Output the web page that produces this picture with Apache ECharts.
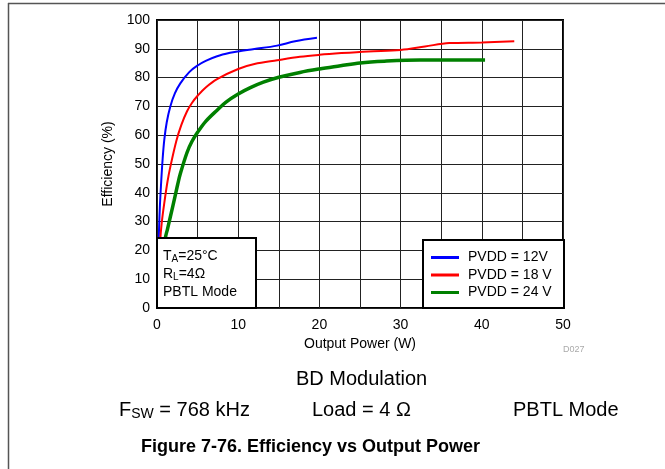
<!DOCTYPE html>
<html>
<head>
<meta charset="utf-8">
<script src="https://cdn.jsdelivr.net/npm/echarts@6/dist/echarts.min.js"></script>
<style>
html,body{margin:0;padding:0;background:#fff;}
#c{width:665px;height:469px;}
</style>
</head>
<body>
<div id="c"></div>
<script>
// ---- data ----
var seriesNames = ['PVDD = 12V', 'PVDD = 18 V', 'PVDD = 24 V'];
var xTicks = [0, 10, 20, 30, 40, 50];
var yTicks = [0, 10, 20, 30, 40, 50, 60, 70, 80, 90, 100];

var pvdd12 = [[0.15,10],[0.22,24],[0.35,35],[0.5,43],[0.7,52],[0.9,58.5],[1.2,64.5],[1.64,70],[2.2,74.5],[2.87,78],[4,82],[5,84.2],[6,85.8],[7.4,87.4],[9,88.6],[10,89.1],[12,89.9],[14.8,91.1],[17,92.6],[19.7,93.8]];
var pvdd18 = [[0.3,10],[0.42,24],[0.6,30],[0.9,36.5],[1.3,44],[1.64,49],[2.38,58],[3,63.6],[3.7,68.3],[4.3,71.2],[5,73.7],[6,76.6],[7.4,79.5],[10,83],[12,84.7],[14.8,86],[17.6,87.2],[20,87.9],[22.7,88.5],[26,89.1],[30,89.6],[33,90.8],[36,92],[40,92.2],[44,92.6]];
var pvdd24 = [[0.85,10],[1.02,24],[1.3,27.5],[1.64,31.6],[2.2,38.5],[2.54,42.8],[2.87,46.6],[3.7,54],[4.3,57.8],[5,61],[6,64.8],[7.4,68.7],[8.5,71.5],[10,74.3],[11.5,76.5],[13.1,78.4],[15,80.1],[17.6,81.8],[20,83],[22.6,84.1],[25,85.1],[28,85.7],[32.4,86.1],[36,86.1],[40.4,86.1]];

var FONT = '"Liberation Sans", Arial, Helvetica, sans-serif';
var chart = echarts.init(document.getElementById('c'), null, {renderer: 'canvas'});

var option = {
  animation: false,
  backgroundColor: '#fff',
  textStyle: {fontFamily: FONT},
  grid: {left: 157, right: 102, top: 20, bottom: 161, show: true, borderColor: '#000', borderWidth: 2, backgroundColor: 'transparent', containLabel: false},
  xAxis: {
    type: 'value', min: 0, max: 50, interval: 5,
    name: 'Output Power (W)', nameLocation: 'middle', nameGap: 27,
    nameTextStyle: {fontSize: 14, color: '#000', fontFamily: FONT},
    axisLine: {show: false}, axisTick: {show: false},
    axisLabel: {fontSize: 14, color: '#000', margin: 10, fontFamily: FONT,
      formatter: function (v) { return xTicks.indexOf(v) >= 0 ? String(v) : ''; }},
    splitLine: {show: true, lineStyle: {color: '#222', width: 1}}
  },
  yAxis: {
    type: 'value', min: 0, max: 100, interval: 10,
    name: 'Efficiency (%)', nameLocation: 'middle', nameGap: 42,
    nameTextStyle: {fontSize: 14, color: '#000', fontFamily: FONT},
    axisLine: {show: false}, axisTick: {show: false},
    axisLabel: {fontSize: 14, color: '#000', margin: 7, fontFamily: FONT,
      formatter: function (v) { return yTicks.indexOf(v) >= 0 ? String(v) : ''; }},
    splitLine: {show: true, lineStyle: {color: '#222', width: 1}}
  },
  legend: {
    orient: 'vertical', left: 431, top: 249, padding: 0, itemGap: 0.5,
    itemWidth: 28, itemHeight: 3, icon: 'rect', z: 20,
    textStyle: {fontSize: 14, color: '#000', lineHeight: 17, fontFamily: FONT, padding: [0, 0, 0, 4]},
    data: seriesNames
  },
  series: [
    {name: seriesNames[0], type: 'line', data: pvdd12, showSymbol: false, smooth: 0.35, color: '#0000ff', lineStyle: {width: 2, color: '#0000ff'}, z: 2},
    {name: seriesNames[1], type: 'line', data: pvdd18, showSymbol: false, smooth: 0.35, color: '#ff0000', lineStyle: {width: 2, color: '#ff0000'}, z: 2},
    {name: seriesNames[2], type: 'line', data: pvdd24, showSymbol: false, smooth: 0.35, color: '#008000', lineStyle: {width: 3.5, color: '#008000'}, z: 2}
  ],
  graphic: {elements: [
    // outer figure frame
    {type: 'line', z: 5, shape: {x1: 8.5, y1: 3, x2: 8.5, y2: 469}, style: {stroke: '#555', lineWidth: 1.5}},
    {type: 'line', z: 5, shape: {x1: 8, y1: 3.5, x2: 665, y2: 3.5}, style: {stroke: '#555', lineWidth: 1.5}},
    // condition box
    {type: 'rect', z: 10, shape: {x: 157, y: 238, width: 99, height: 70}, style: {fill: '#fff', stroke: '#000', lineWidth: 2}},
    {type: 'text', z: 11, left: 163, top: 247, style: {
      text: 'T{s|A}=25°C\nR{s|L}=4Ω\nPBTL Mode',
      font: '14px ' + FONT, fill: '#000', lineHeight: 18,
      rich: {s: {fontSize: 10, fontFamily: FONT, fill: '#000', padding: [7, 0, 0, 0]}}
    }},
    // legend box
    {type: 'rect', z: 10, shape: {x: 423, y: 240, width: 141, height: 68}, style: {fill: '#fff', stroke: '#000', lineWidth: 2}},
    // figure id
    {type: 'text', z: 11, left: 563, top: 345, style: {text: 'D027', font: '9px ' + FONT, fill: '#aaa'}},
    // bottom captions
    {type: 'text', z: 11, left: 296, top: 369, style: {text: 'BD Modulation', font: '20px ' + FONT, fill: '#000'}},
    {type: 'text', z: 11, left: 119, top: 400, style: {
      text: 'F{s|SW} = 768 kHz', font: '20px ' + FONT, fill: '#000',
      rich: {s: {fontSize: 14, fontFamily: FONT, fill: '#000', padding: [9, 0, 0, 0]}}
    }},
    {type: 'text', z: 11, left: 312, top: 400, style: {text: 'Load = 4 Ω', font: '20px ' + FONT, fill: '#000'}},
    {type: 'text', z: 11, left: 513, top: 400, style: {text: 'PBTL Mode', font: '20px ' + FONT, fill: '#000'}},
    {type: 'text', z: 11, left: 141, top: 438, style: {text: 'Figure 7-76. Efficiency vs Output Power', font: 'bold 18px ' + FONT, fill: '#000'}}
  ]}
};
chart.setOption(option);
</script>
</body>
</html>
